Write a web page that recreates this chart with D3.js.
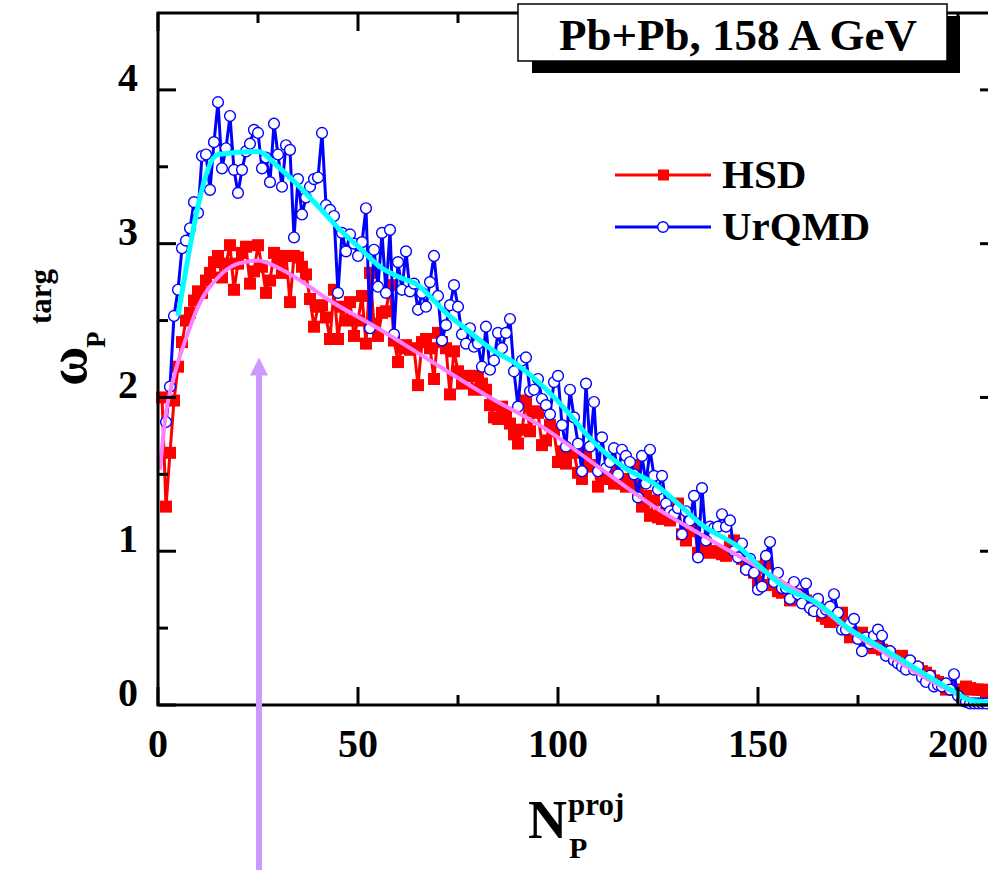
<!DOCTYPE html>
<html>
<head>
<meta charset="utf-8">
<script src="https://cdn.jsdelivr.net/npm/d3@7"></script>
<style>
  html, body { margin: 0; padding: 0; background: #fff; }
  svg { display: block; }
  text { font-family: "Liberation Serif", "Times New Roman", serif; font-weight: bold; }
</style>
</head>
<body>
<svg id="chart" width="988" height="870"></svg>
<script>
'use strict';

// ---- data ----
var hsdStart = 1;
var hsdValues = [
  2.00, 1.29, 1.64, 1.98, 2.20, 2.36, 2.50, 2.55, 2.63, 2.69,
  2.68, 2.76, 2.81, 2.88, 2.92, 2.78, 2.87, 2.99, 2.70, 2.87,
  2.94, 2.98, 2.74, 2.82, 2.99, 2.85, 2.68, 2.76, 2.94, 2.88,
  2.81, 2.92, 2.62, 2.92, 2.91, 2.85, 2.80, 2.64, 2.46, 2.59,
  2.60, 2.52, 2.38, 2.70, 2.38, 2.59, 2.50, 2.62, 2.40, 2.50,
  2.66, 2.35, 2.81, 2.48, 2.40, 2.55, 2.56, 2.73, 2.37, 2.23,
  2.32, 2.34, 2.31, 2.32, 2.08, 2.36, 2.38, 2.32, 2.12, 2.42,
  2.36, 2.32, 2.02, 2.30, 2.17, 2.09, 2.14, 2.14, 2.05, 2.14,
  2.09, 2.05, 1.95, 1.87, 1.86, 1.94, 1.90, 1.83, 1.76, 1.70,
  1.79, 1.98, 1.78, 1.91, 1.90, 1.69, 1.72, 1.82, 1.78, 1.58,
  1.65, 1.57, 1.65, 1.64, 1.51, 1.47, 1.63, 1.56, 1.55, 1.42,
  1.48, 1.47, 1.53, 1.44, 1.47, 1.44, 1.42, 1.47, 1.56, 1.40,
  1.29, 1.36, 1.23, 1.33, 1.22, 1.21, 1.25, 1.20, 1.27, 1.31,
  1.11, 1.07, 1.13, 1.18, 0.99, 1.08, 1.05, 0.99, 1.00, 1.00,
  0.98, 0.97, 1.03, 1.07, 1.03, 0.95, 0.90, 0.88, 0.86, 0.80,
  0.90, 0.92, 0.78, 0.78, 0.74, 0.73, 0.76, 0.68, 0.69, 0.72,
  0.70, 0.68, 0.65, 0.62, 0.66, 0.58, 0.56, 0.54, 0.57, 0.55,
  0.60, 0.50, 0.44, 0.47, 0.45, 0.47, 0.42, 0.40, 0.37, 0.39,
  0.36, 0.35, 0.33, 0.31, 0.30, 0.32, 0.28, 0.27, 0.25, 0.24,
  0.22, 0.21, 0.19, 0.16, 0.15, 0.13, 0.10, 0.11, 0.10, 0.09,
  0.10, 0.12, 0.11, 0.10, 0.10, 0.10, 0.08
];

var urqmdStart = 2;
var urqmdValues = [
  1.84, 2.07, 2.53, 2.70, 2.97, 3.02, 3.10, 3.27, 3.20, 3.57,
  3.58, 3.35, 3.66, 3.92, 3.49, 3.62, 3.83, 3.48, 3.33, 3.48,
  3.60, 3.65, 3.74, 3.72, 3.49, 3.56, 3.40, 3.78, 3.58, 3.37,
  3.64, 3.61, 3.04, 3.42, 3.19, 3.30, 3.37, 3.42, 3.43, 3.72,
  3.25, 3.22, 3.18, 2.68, 3.07, 2.95, 3.06, 3.00, 2.92, 3.01,
  3.23, 2.45, 2.96, 2.72, 3.07, 2.68, 3.09, 2.41, 2.88, 2.70,
  2.95, 2.69, 2.74, 2.57, 2.68, 2.59, 2.75, 2.92, 2.66, 2.37,
  2.47, 2.60, 2.73, 2.59, 2.41, 2.35, 2.45, 2.33, 2.35, 2.20,
  2.46, 2.18, 2.24, 2.42, 2.32, 2.42, 2.51, 2.17, 1.94, 2.24,
  2.26, 2.04, 2.05, 2.12, 1.99, 1.95, 1.89, 2.10, 2.14, 1.82,
  1.68, 2.05, 1.87, 1.70, 1.52, 2.09, 1.68, 1.97, 1.52, 1.74,
  1.54, 1.58, 1.67, 1.50, 1.66, 1.62, 1.58, 1.50, 1.35, 1.62,
  1.44, 1.66, 1.49, 1.40, 1.49, 1.31, 1.26, 1.24, 1.28, 1.11,
  1.26, 1.20, 1.36, 0.96, 1.41, 1.07, 1.16, 1.15, 1.16, 1.24,
  1.16, 1.20, 1.00, 0.96, 1.05, 0.88, 0.95, 0.86, 0.75, 0.77,
  0.97, 1.06, 0.80, 0.86, 0.76, 0.76, 0.69, 0.80, 0.72, 0.66,
  0.79, 0.63, 0.61, 0.69, 0.60, 0.62, 0.64, 0.72, 0.60, 0.49,
  0.49, 0.53, 0.56, 0.43, 0.35, 0.44, 0.40, 0.45, 0.49, 0.45,
  0.32, 0.35, 0.29, 0.27, 0.25, 0.23, 0.29, 0.23, 0.25, 0.18,
  0.15, 0.19, 0.12, 0.13, 0.12, 0.14, 0.10, 0.20, 0.06, 0.03,
  0.02, 0.01, 0.01, 0.01, 0.01, 0.01
];

// smooth fit curves
var hsdFitX = [0.5, 1.75, 4.25, 7.5, 10, 15, 20, 25, 31, 36.75, 41.75, 55, 68, 83, 96, 110, 124, 137, 151, 165.5, 172.5, 181, 189, 197.5, 203.5, 207.5];
var hsdFitY = [1.53, 1.85, 2.16, 2.42, 2.59, 2.78, 2.87, 2.89, 2.83, 2.74, 2.65, 2.45, 2.24, 2.00, 1.81, 1.55, 1.29, 1.09, 0.88, 0.64, 0.49, 0.35, 0.22, 0.10, 0.03, 0.02];

var urqmdFitX = [5, 15, 25, 30, 35, 40.5, 45.5, 50.5, 55.5, 60.5, 65, 69, 72, 76.3, 83, 90, 96.75, 102.6, 106.75, 110.9, 116.75, 124, 130, 135.5, 145.5, 150.5, 156.3, 165, 172.5, 181, 189.25, 197.5, 203.4, 207.5];
var urqmdFitY = [2.53, 3.58, 3.60, 3.50, 3.38, 3.23, 3.09, 2.97, 2.85, 2.78, 2.73, 2.63, 2.55, 2.46, 2.32, 2.21, 2.06, 1.90, 1.77, 1.66, 1.54, 1.44, 1.31, 1.18, 1.02, 0.90, 0.77, 0.66, 0.50, 0.37, 0.24, 0.11, 0.03, 0.02];

var xMajorTicks = [0, 50, 100, 150, 200];
var xMinorTicks = [25, 75, 125, 175];
var yMajorTicks = [0, 1, 2, 3, 4];
var yMinorTicks = [0.5, 1.5, 2.5, 3.5];

var arrowX = 25.25;
var arrowTip = 2.26;

var title = "Pb+Pb, 158 A GeV";
var legendLabels = ["HSD", "UrQMD"];

(function() {
  var svg = d3.select("#chart");
  var H = 870;
  var mLeft = 158, mRight = 998, mTop = 13, mBottom = 705;

  var x = d3.scaleLinear().domain([0, 210]).range([mLeft, mRight]);
  var y = d3.scaleLinear().domain([0, 4.5]).range([mBottom, mTop]);

  function toPoints(start, values) {
    return values.map(function(v, i) { return { x: start + i, y: v }; });
  }
  var hsd = toPoints(hsdStart, hsdValues);
  var urqmd = toPoints(urqmdStart, urqmdValues);
  var hsdFit = hsdFitX.map(function(v, i) { return { x: v, y: hsdFitY[i] }; });
  var urqmdFit = urqmdFitX.map(function(v, i) { return { x: v, y: urqmdFitY[i] }; });

  var line = d3.line()
    .x(function(d) { return x(d.x); })
    .y(function(d) { return y(d.y); });
  var smooth = d3.line()
    .x(function(d) { return x(d.x); })
    .y(function(d) { return y(d.y); })
    .curve(d3.curveMonotoneX);

  // HSD
  svg.append("path").datum(hsd)
    .attr("d", line)
    .attr("fill", "none").attr("stroke", "#ff0000").attr("stroke-width", 3);
  svg.append("g").selectAll("rect").data(hsd).enter().append("rect")
    .attr("x", function(d) { return x(d.x) - 6; })
    .attr("y", function(d) { return y(d.y) - 6; })
    .attr("width", 12).attr("height", 12)
    .attr("fill", "#ff0000");

  // UrQMD
  svg.append("path").datum(urqmd)
    .attr("d", line)
    .attr("fill", "none").attr("stroke", "#0000ff").attr("stroke-width", 3);
  svg.append("g").selectAll("circle").data(urqmd).enter().append("circle")
    .attr("cx", function(d) { return x(d.x); })
    .attr("cy", function(d) { return y(d.y); })
    .attr("r", 5.4)
    .attr("fill", "#fff").attr("stroke", "#0000ff").attr("stroke-width", 1.4);

  // fits
  svg.append("path").datum(hsdFit)
    .attr("d", smooth)
    .attr("fill", "none").attr("stroke", "#ff80ff").attr("stroke-width", 4);
  svg.append("path").datum(urqmdFit)
    .attr("d", smooth)
    .attr("fill", "none").attr("stroke", "#00ffff").attr("stroke-width", 5);

  // frame
  var axis = svg.append("g").attr("stroke", "#000");
  axis.append("rect")
    .attr("x", mLeft).attr("y", mTop)
    .attr("width", mRight - mLeft).attr("height", mBottom - mTop)
    .attr("fill", "none").attr("stroke-width", 3);

  function xTick(v, len) {
    axis.append("line").attr("x1", x(v)).attr("x2", x(v)).attr("y1", mBottom).attr("y2", mBottom - len).attr("stroke-width", 3);
    axis.append("line").attr("x1", x(v)).attr("x2", x(v)).attr("y1", mTop).attr("y2", mTop + len).attr("stroke-width", 3);
  }
  function yTick(v, len) {
    axis.append("line").attr("x1", mLeft).attr("x2", mLeft + len).attr("y1", y(v)).attr("y2", y(v)).attr("stroke-width", 3);
    axis.append("line").attr("x1", mRight).attr("x2", mRight - len).attr("y1", y(v)).attr("y2", y(v)).attr("stroke-width", 3);
  }
  xMajorTicks.forEach(function(v) { xTick(v, 18); });
  xMinorTicks.forEach(function(v) { xTick(v, 10); });
  yMajorTicks.forEach(function(v) { yTick(v, 18); });
  yMinorTicks.forEach(function(v) { yTick(v, 10); });

  svg.append("g").selectAll("text").data(xMajorTicks).enter().append("text")
    .attr("x", function(d) { return x(d); })
    .attr("y", 757)
    .attr("text-anchor", "middle")
    .attr("font-size", 40)
    .text(function(d) { return d; });

  svg.append("g").selectAll("text").data(yMajorTicks).enter().append("text")
    .attr("x", 138)
    .attr("y", function(d) { return y(d) + 1; })
    .attr("text-anchor", "end")
    .attr("font-size", 40)
    .text(function(d) { return d; });

  // axis titles
  var xt = svg.append("g");
  xt.append("text").attr("x", 528).attr("y", 838).attr("font-size", 54).text("N");
  xt.append("text").attr("x", 568).attr("y", 815).attr("font-size", 31).text("proj");
  xt.append("text").attr("x", 569).attr("y", 858).attr("font-size", 30).text("P");

  var yt = svg.append("g").attr("transform", "rotate(-90)");
  yt.append("text").attr("x", -386).attr("y", 86).attr("font-size", 54).text("\u03c9");
  yt.append("text").attr("x", -348).attr("y", 105).attr("font-size", 27).text("P");
  yt.append("text").attr("x", -324).attr("y", 51).attr("font-size", 31).text("targ");

  // arrow
  var arrowColor = "#cc99ff";
  svg.append("line")
    .attr("x1", x(arrowX)).attr("x2", x(arrowX))
    .attr("y1", y(arrowTip) + 14).attr("y2", H + 5)
    .attr("stroke", arrowColor).attr("stroke-width", 6);
  svg.append("path")
    .attr("d", "M" + x(arrowX) + "," + y(arrowTip) +
      "L" + (x(arrowX) + 9) + "," + (y(arrowTip) + 18) +
      "L" + (x(arrowX) - 9) + "," + (y(arrowTip) + 18) + "Z")
    .attr("fill", arrowColor);

  // title box with shadow
  svg.append("rect").attr("x", 532).attr("y", 16).attr("width", 428).attr("height", 57).attr("fill", "#000");
  svg.append("rect").attr("x", 518).attr("y", 4).attr("width", 429).attr("height", 57)
    .attr("fill", "#fff").attr("stroke", "#000").attr("stroke-width", 1.5);
  svg.append("text").attr("x", 738).attr("y", 50).attr("text-anchor", "middle")
    .attr("font-size", 45).text(title);

  // legend
  var legend = svg.append("g");
  var legY = [175, 227];
  var legColors = ["#ff0000", "#0000ff"];
  legendLabels.forEach(function(lab, i) {
    legend.append("line").attr("x1", 615).attr("x2", 711).attr("y1", legY[i]).attr("y2", legY[i])
      .attr("stroke", legColors[i]).attr("stroke-width", 3);
    if (i === 0) {
      legend.append("rect").attr("x", 658).attr("y", legY[i] - 5.5).attr("width", 11).attr("height", 11).attr("fill", "#ff0000");
    } else {
      legend.append("circle").attr("cx", 663).attr("cy", legY[i]).attr("r", 5.3)
        .attr("fill", "#fff").attr("stroke", "#0000ff").attr("stroke-width", 1.4);
    }
    legend.append("text").attr("x", 722).attr("y", legY[i] + 13).attr("font-size", 41).text(lab);
  });
})();
</script>
</body>
</html>
